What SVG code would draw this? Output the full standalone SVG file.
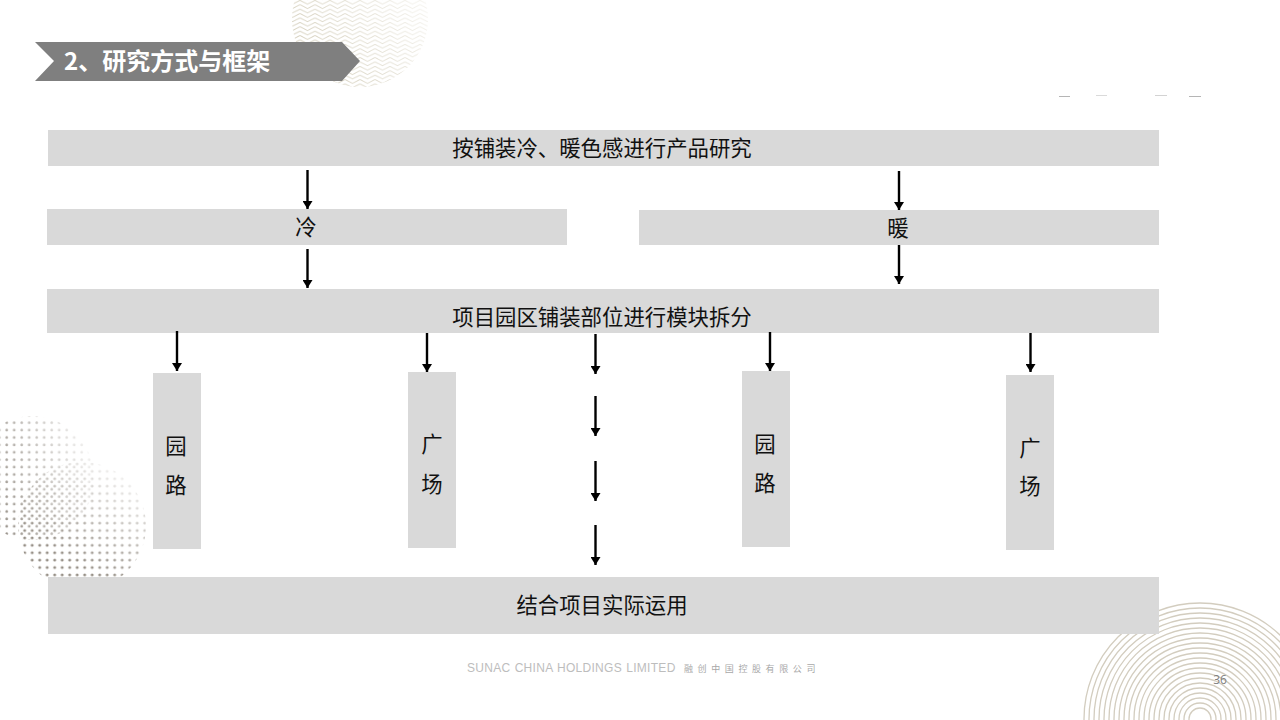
<svg xmlns="http://www.w3.org/2000/svg" width="1280" height="720" viewBox="0 0 1280 720">
<style>
.box{fill:#d9d9d9}
.t{font-family:"Noto Sans CJK SC","Noto Sans",sans-serif;font-size:21.4px;fill:#111;text-anchor:middle}
.conn line{stroke:#000;stroke-width:2.4;marker-end:url(#arr)}
.ring{fill:none;stroke:#d3cdbf;stroke-width:1.3}
</style>
<defs>
<marker id="arr" markerUnits="userSpaceOnUse" markerWidth="11" markerHeight="10" refX="8" refY="5" orient="auto"><path d="M0 0L8 5L0 10Z" fill="#000"/></marker>
<pattern id="zig" width="15" height="4.4" patternUnits="userSpaceOnUse"><path d="M0 0.3L7.500 4.100L15 0.3M0 -4.100L7.500 -0.3L15 -4.100M0 4.700L7.500 8.500L15 4.700" fill="none" stroke="#d2ccb8" stroke-width="0.9"/></pattern>
<pattern id="d1" x="5" y="421" width="7.5" height="7.4" patternUnits="userSpaceOnUse"><circle cx="1.7" cy="1.7" r="1.4" fill="#9a948c"/></pattern>
<pattern id="d2" x="21" y="475" width="7.5" height="7.4" patternUnits="userSpaceOnUse"><circle cx="3.7" cy="3.7" r="1.5" fill="#968f86"/></pattern>
<linearGradient id="f1" x1="0" y1="0.4" x2="1" y2="0.1"><stop offset="0.1" stop-color="#fff"/><stop offset="1" stop-color="#fff" stop-opacity="0.05"/></linearGradient>
<linearGradient id="f2" x1="0.1" y1="1" x2="0.7" y2="0"><stop offset="0.3" stop-color="#fff"/><stop offset="1" stop-color="#fff" stop-opacity="0.1"/></linearGradient>
<linearGradient id="f3" x1="0" y1="0.8" x2="1" y2="0.2"><stop offset="0" stop-color="#fff"/><stop offset="1" stop-color="#fff" stop-opacity="0.15"/></linearGradient>
<mask id="m1" maskUnits="userSpaceOnUse" x="0" y="410" width="110" height="140"><circle cx="32" cy="478" r="62" fill="url(#f1)"/></mask>
<mask id="m2" maskUnits="userSpaceOnUse" x="15" y="460" width="140" height="130"><circle cx="82" cy="526" r="64" fill="url(#f2)"/></mask>
<mask id="m3" maskUnits="userSpaceOnUse" x="290" y="0" width="140" height="90"><circle cx="360" cy="19" r="68" fill="url(#f3)"/></mask>
</defs>
<rect width="1280" height="720" fill="#fff"/>
<g id="decor">
<rect x="290" y="0" width="140" height="90" fill="url(#zig)" mask="url(#m3)"/>
<rect x="0" y="410" width="110" height="140" fill="url(#d1)" mask="url(#m1)"/>
<rect x="15" y="460" width="140" height="130" fill="url(#d2)" mask="url(#m2)"/>
<g id="rings">
<circle class="ring" cx="1200" cy="719" r="116"/><circle class="ring" cx="1200" cy="719" r="111"/><circle class="ring" cx="1200" cy="719" r="106"/><circle class="ring" cx="1200" cy="719" r="101"/><circle class="ring" cx="1200" cy="719" r="96"/><circle class="ring" cx="1200" cy="719" r="91"/><circle class="ring" cx="1200" cy="719" r="86"/><circle class="ring" cx="1200" cy="719" r="81"/><circle class="ring" cx="1200" cy="719" r="76"/><circle class="ring" cx="1200" cy="719" r="71"/><circle class="ring" cx="1200" cy="719" r="66"/><circle class="ring" cx="1200" cy="719" r="61"/><circle class="ring" cx="1200" cy="719" r="56"/><circle class="ring" cx="1200" cy="719" r="51"/><circle class="ring" cx="1200" cy="719" r="46"/><circle class="ring" cx="1200" cy="719" r="41"/><circle class="ring" cx="1200" cy="719" r="36"/><circle class="ring" cx="1200" cy="719" r="31"/><circle class="ring" cx="1200" cy="719" r="26"/><circle class="ring" cx="1200" cy="719" r="21"/><circle class="ring" cx="1200" cy="719" r="16"/><circle class="ring" cx="1200" cy="719" r="11"/>
</g>
<g fill="#b5b5b5"><rect x="1059" y="96" width="11" height="1"/><rect x="1096" y="95" width="11" height="1" opacity=".5"/><rect x="1155" y="95" width="12" height="1" opacity=".6"/><rect x="1189" y="96" width="12" height="1"/></g>
</g>
<g id="title"><path d="M35 42H342L360 61L342 81H35L54 61Z" fill="#7f7f7f"/><text x="64" y="70" font-family="'Noto Sans CJK SC',sans-serif" font-size="24" font-weight="700" fill="#fff">2、研究方式与框架</text></g>
<g id="n1"><rect class="box" x="48" y="130" width="1111" height="36"/><text class="t" x="602" y="156">按铺装冷、暖色感进行产品研究</text></g>
<g id="n2"><rect class="box" x="47" y="209" width="520" height="36"/><text class="t" x="306" y="235">冷</text></g>
<g id="n3"><rect class="box" x="639" y="210" width="520" height="35"/><text class="t" x="898" y="236">暖</text></g>
<g id="n4"><rect class="box" x="47" y="289" width="1112" height="44"/><text class="t" x="602" y="325">项目园区铺装部位进行模块拆分</text></g>
<g id="n5"><rect class="box" x="153" y="373" width="48" height="176"/><text class="t" x="176" y="454">园</text><text class="t" x="176" y="493">路</text></g>
<g id="n6"><rect class="box" x="408" y="372" width="48" height="176"/><text class="t" x="432" y="452">广</text><text class="t" x="432" y="492">场</text></g>
<g id="n7"><rect class="box" x="742" y="371" width="48" height="176"/><text class="t" x="765" y="452">园</text><text class="t" x="765" y="491">路</text></g>
<g id="n8"><rect class="box" x="1006" y="375" width="48" height="175"/><text class="t" x="1030" y="456">广</text><text class="t" x="1030" y="494">场</text></g>
<g id="n9"><rect class="box" x="48" y="577" width="1111" height="57"/><text class="t" x="602" y="613">结合项目实际运用</text></g>
<g id="connectors" class="conn">
<line x1="307.500" y1="170" x2="307.500" y2="209"/><line x1="899" y1="171" x2="899" y2="210"/>
<line x1="307.500" y1="249" x2="307.500" y2="288"/><line x1="899" y1="245" x2="899" y2="284"/>
<line x1="177" y1="331" x2="177" y2="371"/><line x1="427" y1="333" x2="427" y2="372"/>
<line x1="595.500" y1="334" x2="595.500" y2="374"/><line x1="770" y1="332" x2="770" y2="371"/>
<line x1="1030.500" y1="333" x2="1030.500" y2="372"/><line x1="595.500" y1="396" x2="595.500" y2="436"/>
<line x1="595.500" y1="461" x2="595.500" y2="501"/><line x1="595.500" y1="525" x2="595.500" y2="565"/>
</g>
<g id="footer"><text x="467" y="672" font-family="'Liberation Sans',sans-serif" font-size="12" letter-spacing="0.3" word-spacing="0.5" fill="#bdbdbd">SUNAC CHINA HOLDINGS LIMITED</text><text x="684" y="672" font-family="'Noto Sans CJK SC',sans-serif" font-size="9" letter-spacing="4.6" fill="#a8a8a8">融创中国控股有限公司</text><text x="1220" y="684" font-family="'Open Sans',sans-serif" font-size="12" text-anchor="middle" fill="#7f7f7f">36</text></g>
</svg>
